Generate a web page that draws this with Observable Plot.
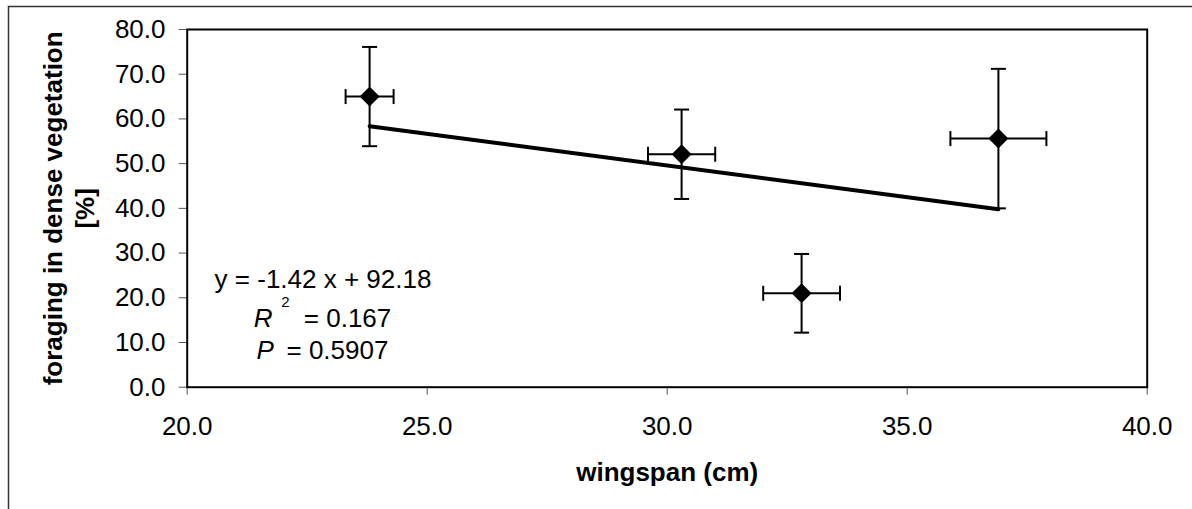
<!DOCTYPE html>
<html>
<head>
<meta charset="utf-8">
<script src="https://cdn.jsdelivr.net/npm/d3@7"></script>
<script src="https://cdn.jsdelivr.net/npm/@observablehq/plot@0.6"></script>
<style>
  body { margin: 0; background: #fff; }
</style>
</head>
<body>
<div id="chart"></div>
<script>
// Wingspan (cm) with its error, and share of foraging in dense vegetation (%) with its error
const wingspan = [23.8, 30.3, 32.8, 36.9];
const wingspanErr = [0.5, 0.7, 0.8, 1.0];
const foraging = [65.0, 52.1, 21.0, 55.6];
const foragingErr = [11.1, 10.0, 8.8, 15.6];

// Linear fit statistics
const slope = -1.42;
const intercept = 92.18;
const rSquared = 0.167;
const pValue = 0.5907;

const xTicks = [20, 25, 30, 35, 40];
const yTicks = [0, 10, 20, 30, 40, 50, 60, 70, 80];

const xLabel = "wingspan (cm)";
const yLabelLines = ["foraging in dense vegetation", "[%]"];

const points = wingspan.map((w, i) => ({
  x: w, xe: wingspanErr[i], y: foraging[i], ye: foragingErr[i]
}));

const xMin = d3.min(wingspan), xMax = d3.max(wingspan);
const fit = [xMin, xMax].map(x => ({x, y: slope * x + intercept}));

// Flat caps for the error bars
const capH = {draw(ctx) { ctx.moveTo(-7.5, 0); ctx.lineTo(7.5, 0); }};
const capV = {draw(ctx) { ctx.moveTo(0, -7.5); ctx.lineTo(0, 7.5); }};

const fmt = d => d.toFixed(1);
const font = "'Liberation Sans', Arial, sans-serif";

const chart = Plot.plot({
  width: 1192,
  height: 509,
  marginLeft: 186.7,
  marginRight: 45.3,
  marginTop: 29,
  marginBottom: 122.3,
  style: {fontFamily: font, fontSize: "26px", color: "black", background: "white"},
  x: {domain: [20, 40]},
  y: {domain: [0, 80]},
  marks: [
    // outer chart border
    Plot.frame({stroke: "#333", strokeWidth: 1.5, insetLeft: -178.7, insetTop: -23, insetRight: -200, insetBottom: -300}),
    Plot.axisX({ticks: xTicks, tickFormat: fmt, tickSize: 8, tickPadding: 21, label: null, stroke: "#555", fontSize: 26}),
    Plot.axisY({ticks: yTicks, tickFormat: fmt, tickSize: 8, tickPadding: 13.7, label: null, stroke: "#555", fontSize: 26}),
    // error bars
    Plot.link(points, {x1: "x", x2: "x", y1: d => d.y - d.ye, y2: d => d.y + d.ye, stroke: "black", strokeWidth: 2}),
    Plot.link(points, {x1: d => d.x - d.xe, x2: d => d.x + d.xe, y1: "y", y2: "y", stroke: "black", strokeWidth: 2}),
    Plot.dot(points, {x: "x", y: d => d.y - d.ye, symbol: capH, r: 1, stroke: "black", strokeWidth: 2}),
    Plot.dot(points, {x: "x", y: d => d.y + d.ye, symbol: capH, r: 1, stroke: "black", strokeWidth: 2}),
    Plot.dot(points, {x: d => d.x - d.xe, y: "y", symbol: capV, r: 1, stroke: "black", strokeWidth: 2}),
    Plot.dot(points, {x: d => d.x + d.xe, y: "y", symbol: capV, r: 1, stroke: "black", strokeWidth: 2}),
    // regression line
    Plot.line(fit, {x: "x", y: "y", stroke: "black", strokeWidth: 4}),
    // data points
    Plot.dot(points, {x: "x", y: "y", symbol: "diamond2", r: 9, fill: "black", stroke: "none"}),
    Plot.frame({stroke: "black", strokeWidth: 2}),
    // fit annotation
    Plot.text([`y = ${slope.toFixed(2)} x + ${intercept.toFixed(2)}`], {text: d => d, frameAnchor: "top-left", dx: 135.8, dy: 258.3, lineAnchor: "bottom", textAnchor: "middle", fontSize: 26}),
    Plot.text(["R"], {text: d => d, frameAnchor: "top-left", dx: 66.6, dy: 297, lineAnchor: "bottom", textAnchor: "start", fontSize: 26, fontStyle: "italic"}),
    Plot.text(["2"], {text: d => d, frameAnchor: "top-left", dx: 94, dy: 277.7, lineAnchor: "bottom", textAnchor: "start", fontSize: 15}),
    Plot.text([`= ${rSquared.toFixed(3)}`], {text: d => d, frameAnchor: "top-left", dx: 116.6, dy: 297, lineAnchor: "bottom", textAnchor: "start", fontSize: 26}),
    Plot.text(["P"], {text: d => d, frameAnchor: "top-left", dx: 69.3, dy: 329.3, lineAnchor: "bottom", textAnchor: "start", fontSize: 26, fontStyle: "italic"}),
    Plot.text([`= ${pValue.toFixed(4)}`], {text: d => d, frameAnchor: "top-left", dx: 99.3, dy: 329.3, lineAnchor: "bottom", textAnchor: "start", fontSize: 26}),
    // axis titles
    Plot.text([xLabel], {text: d => d, frameAnchor: "bottom", dy: 93.3, lineAnchor: "bottom", textAnchor: "middle", fontSize: 26, fontWeight: "bold"}),
    Plot.text([yLabelLines[0]], {text: d => d, frameAnchor: "left", dx: -125.7, rotate: -90, lineAnchor: "bottom", textAnchor: "middle", fontSize: 26, fontWeight: "bold"}),
    Plot.text([yLabelLines[1]], {text: d => d, frameAnchor: "left", dx: -93.7, rotate: -90, lineAnchor: "bottom", textAnchor: "middle", fontSize: 26, fontWeight: "bold"})
  ]
});

document.getElementById("chart").appendChild(chart);
</script>
</body>
</html>
